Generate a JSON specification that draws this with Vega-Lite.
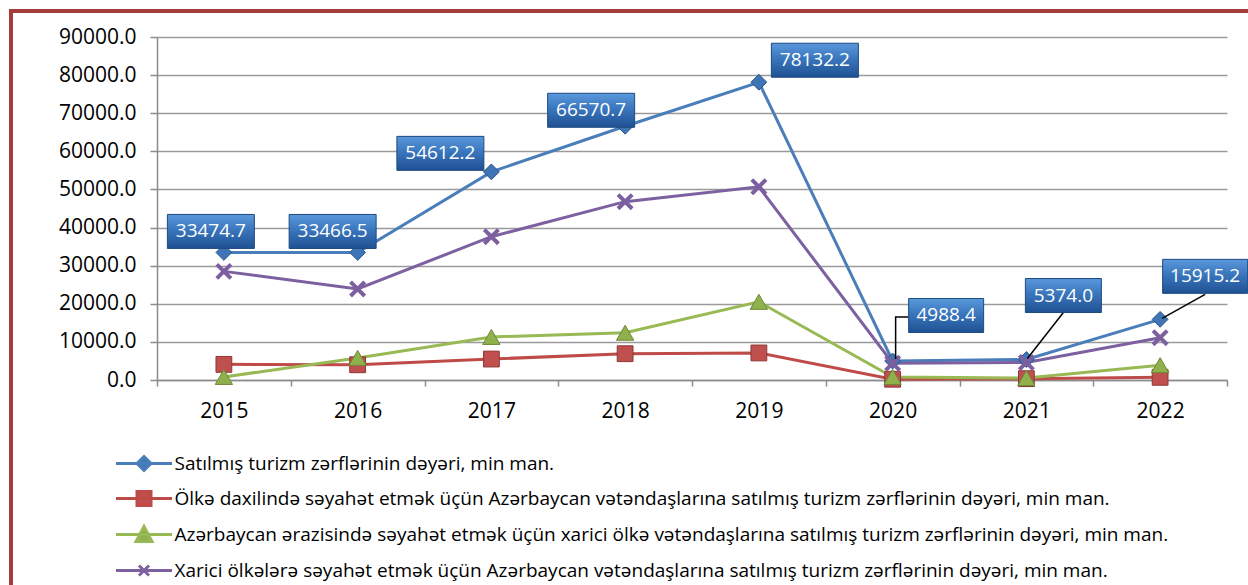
{
  "$schema": "https://vega.github.io/schema/vega-lite/v6.json",
  "width": 1250,
  "height": 590,
  "autosize": {"type": "none"},
  "padding": {"left": 11, "top": 11, "right": 0, "bottom": 0},
  "background": "#ffffff",
  "config": {
    "view": {"stroke": "#a33c3a", "strokeWidth": 4},
    "font": "Open Sans",
    "text": {"font": "Open Sans"},
    "legend": {"orient": "none", "title": null, "padding": 0, "symbolOffset": 28, "labelOffset": 21, "labelFontSize": 19, "labelFont": "Open Sans", "labelColor": "#000000", "labelLimit": 1300, "symbolSize": 4, "symbolStrokeWidth": 3, "symbolOpacity": 1}
  },
  "datasets": {
    "rows": [
      {"year": "2015", "key": "b", "series": "Satılmış turizm zərflərinin dəyəri, min man.", "value": 33474.7},
      {"year": "2016", "key": "b", "series": "Satılmış turizm zərflərinin dəyəri, min man.", "value": 33466.5},
      {"year": "2017", "key": "b", "series": "Satılmış turizm zərflərinin dəyəri, min man.", "value": 54612.2},
      {"year": "2018", "key": "b", "series": "Satılmış turizm zərflərinin dəyəri, min man.", "value": 66570.7},
      {"year": "2019", "key": "b", "series": "Satılmış turizm zərflərinin dəyəri, min man.", "value": 78132.2},
      {"year": "2020", "key": "b", "series": "Satılmış turizm zərflərinin dəyəri, min man.", "value": 4988.4},
      {"year": "2021", "key": "b", "series": "Satılmış turizm zərflərinin dəyəri, min man.", "value": 5374.0},
      {"year": "2022", "key": "b", "series": "Satılmış turizm zərflərinin dəyəri, min man.", "value": 15915.2},
      {"year": "2015", "key": "r", "series": "Ölkə daxilində səyahət etmək üçün Azərbaycan vətəndaşlarına satılmış turizm zərflərinin dəyəri, min man.", "value": 4100},
      {"year": "2016", "key": "r", "series": "Ölkə daxilində səyahət etmək üçün Azərbaycan vətəndaşlarına satılmış turizm zərflərinin dəyəri, min man.", "value": 4000},
      {"year": "2017", "key": "r", "series": "Ölkə daxilində səyahət etmək üçün Azərbaycan vətəndaşlarına satılmış turizm zərflərinin dəyəri, min man.", "value": 5500},
      {"year": "2018", "key": "r", "series": "Ölkə daxilində səyahət etmək üçün Azərbaycan vətəndaşlarına satılmış turizm zərflərinin dəyəri, min man.", "value": 6900},
      {"year": "2019", "key": "r", "series": "Ölkə daxilində səyahət etmək üçün Azərbaycan vətəndaşlarına satılmış turizm zərflərinin dəyəri, min man.", "value": 7100},
      {"year": "2020", "key": "r", "series": "Ölkə daxilində səyahət etmək üçün Azərbaycan vətəndaşlarına satılmış turizm zərflərinin dəyəri, min man.", "value": 200},
      {"year": "2021", "key": "r", "series": "Ölkə daxilində səyahət etmək üçün Azərbaycan vətəndaşlarına satılmış turizm zərflərinin dəyəri, min man.", "value": 350},
      {"year": "2022", "key": "r", "series": "Ölkə daxilində səyahət etmək üçün Azərbaycan vətəndaşlarına satılmış turizm zərflərinin dəyəri, min man.", "value": 700},
      {"year": "2015", "key": "g", "series": "Azərbaycan ərazisində səyahət etmək üçün xarici ölkə vətəndaşlarına satılmış turizm zərflərinin dəyəri, min man.", "value": 800},
      {"year": "2016", "key": "g", "series": "Azərbaycan ərazisində səyahət etmək üçün xarici ölkə vətəndaşlarına satılmış turizm zərflərinin dəyəri, min man.", "value": 5800},
      {"year": "2017", "key": "g", "series": "Azərbaycan ərazisində səyahət etmək üçün xarici ölkə vətəndaşlarına satılmış turizm zərflərinin dəyəri, min man.", "value": 11300},
      {"year": "2018", "key": "g", "series": "Azərbaycan ərazisində səyahət etmək üçün xarici ölkə vətəndaşlarına satılmış turizm zərflərinin dəyəri, min man.", "value": 12400},
      {"year": "2019", "key": "g", "series": "Azərbaycan ərazisində səyahət etmək üçün xarici ölkə vətəndaşlarına satılmış turizm zərflərinin dəyəri, min man.", "value": 20500},
      {"year": "2020", "key": "g", "series": "Azərbaycan ərazisində səyahət etmək üçün xarici ölkə vətəndaşlarına satılmış turizm zərflərinin dəyəri, min man.", "value": 800},
      {"year": "2021", "key": "g", "series": "Azərbaycan ərazisində səyahət etmək üçün xarici ölkə vətəndaşlarına satılmış turizm zərflərinin dəyəri, min man.", "value": 500},
      {"year": "2022", "key": "g", "series": "Azərbaycan ərazisində səyahət etmək üçün xarici ölkə vətəndaşlarına satılmış turizm zərflərinin dəyəri, min man.", "value": 3900},
      {"year": "2015", "key": "p", "series": "Xarici ölkələrə səyahət etmək üçün Azərbaycan vətəndaşlarına satılmış turizm zərflərinin dəyəri, min man.", "value": 28500},
      {"year": "2016", "key": "p", "series": "Xarici ölkələrə səyahət etmək üçün Azərbaycan vətəndaşlarına satılmış turizm zərflərinin dəyəri, min man.", "value": 23900},
      {"year": "2017", "key": "p", "series": "Xarici ölkələrə səyahət etmək üçün Azərbaycan vətəndaşlarına satılmış turizm zərflərinin dəyəri, min man.", "value": 37600},
      {"year": "2018", "key": "p", "series": "Xarici ölkələrə səyahət etmək üçün Azərbaycan vətəndaşlarına satılmış turizm zərflərinin dəyəri, min man.", "value": 46800},
      {"year": "2019", "key": "p", "series": "Xarici ölkələrə səyahət etmək üçün Azərbaycan vətəndaşlarına satılmış turizm zərflərinin dəyəri, min man.", "value": 50700},
      {"year": "2020", "key": "p", "series": "Xarici ölkələrə səyahət etmək üçün Azərbaycan vətəndaşlarına satılmış turizm zərflərinin dəyəri, min man.", "value": 4400},
      {"year": "2021", "key": "p", "series": "Xarici ölkələrə səyahət etmək üçün Azərbaycan vətəndaşlarına satılmış turizm zərflərinin dəyəri, min man.", "value": 4600},
      {"year": "2022", "key": "p", "series": "Xarici ölkələrə səyahət etmək üçün Azərbaycan vətəndaşlarına satılmış turizm zərflərinin dəyəri, min man.", "value": 11100}
    ]
  },
  "data": {"name": "rows"},
  "encoding": {
    "x": {
      "field": "year", "type": "ordinal",
      "scale": {"type": "band", "range": [146, 1216], "paddingInner": 0, "paddingOuter": 0},
      "axis": {"title": null, "orient": "bottom", "offset": -221, "tickBand": "extent", "tickSize": 6, "tickColor": "#8c8c8c", "tickWidth": 1.5, "domainColor": "#8c8c8c", "domainWidth": 1.5, "labelAngle": 0, "labelFontSize": 21, "labelPadding": 14, "labelColor": "#000000", "labelFont": "Open Sans", "grid": false}
    },
    "y": {
      "field": "value", "type": "quantitative",
      "scale": {"domain": [0, 90000], "range": [369, 26], "nice": false},
      "axis": {"title": null, "offset": -146, "values": [0, 10000, 20000, 30000, 40000, 50000, 60000, 70000, 80000, 90000], "format": ".1f", "tickSize": 7, "tickColor": "#8c8c8c", "tickWidth": 1.5, "domainColor": "#8c8c8c", "domainWidth": 1.5, "grid": true, "gridColor": "#9a9a9a", "gridWidth": 1.5, "labelFontSize": 21, "labelPadding": 14, "labelColor": "#000000", "labelFont": "Open Sans"}
    }
  },
  "layer": [
    {
      "mark": {"type": "line", "strokeWidth": 3},
      "encoding": {
        "color": {"field": "series", "type": "nominal", "legend": null,
          "scale": {"domain": ["Satılmış turizm zərflərinin dəyəri, min man.", "Ölkə daxilində səyahət etmək üçün Azərbaycan vətəndaşlarına satılmış turizm zərflərinin dəyəri, min man.", "Azərbaycan ərazisində səyahət etmək üçün xarici ölkə vətəndaşlarına satılmış turizm zərflərinin dəyəri, min man.", "Xarici ölkələrə səyahət etmək üçün Azərbaycan vətəndaşlarına satılmış turizm zərflərinin dəyəri, min man."],
                    "range": ["#4a7ebb", "#be4b48", "#98b954", "#7d60a0"]}}
      }
    },
    {
      "transform": [{"filter": "datum.key === 'b'"}],
      "mark": {"type": "point", "shape": "diamond", "size": 250, "filled": true, "fill": "#3f75b6", "stroke": "#2a5587", "strokeWidth": 1, "opacity": 1}
    },
    {
      "transform": [{"filter": "datum.key === 'r'"}],
      "mark": {"type": "point", "shape": "square", "size": 250, "filled": true, "fill": "#c0504d", "stroke": "#8c3836", "strokeWidth": 1, "opacity": 1}
    },
    {
      "transform": [{"filter": "datum.key === 'g'"}],
      "mark": {"type": "point", "shape": "triangle-up", "size": 300, "filled": true, "fill": "#8fb04c", "stroke": "#6b8a36", "strokeWidth": 1, "opacity": 1}
    },
    {
      "transform": [{"filter": "datum.key === 'p'"}],
      "mark": {"type": "point", "shape": "M-1,-1L1,1M-1,1L1,-1", "size": 200, "filled": false, "stroke": "#7d5fa0", "strokeWidth": 4, "opacity": 1}
    },
    {
      "transform": [{"filter": "datum.key === 'b' && (datum.year === '2020' || datum.year === '2021' || datum.year === '2022')"}],
      "mark": {"type": "point", "size": 4, "filled": false, "stroke": "#000000", "strokeWidth": 1.5, "opacity": 1},
      "encoding": {
        "shape": {"field": "year", "type": "nominal", "legend": null,
          "scale": {"domain": ["2020", "2021", "2022"], "range": ["M3,-2V-44H16", "M1,-1L37,-47", "M2,-1L45,-25"]}}
      }
    },
    {
      "transform": [{"filter": "datum.key === 'b'"}],
      "mark": {"type": "point", "size": 4, "filled": true, "opacity": 1, "stroke": "#1e4a80", "strokeWidth": 1,
        "fill": {"gradient": "linear", "x1": 0, "y1": 0, "x2": 0, "y2": 1, "stops": [{"offset": 0, "color": "#5a98dc"}, {"offset": 0.45, "color": "#3a76bd"}, {"offset": 1, "color": "#1f5193"}]}},
      "encoding": {
        "shape": {"field": "year", "type": "nominal", "legend": null,
          "scale": {"domain": ["2015", "2016", "2017", "2018", "2019", "2020", "2021", "2022"],
                    "range": ["M-56.5,-38H30.5V-4H-56.5Z", "M-68.5,-38H18.5V-4H-68.5Z", "M-94.5,-35.5H-7.5V-1.5H-94.5Z", "M-77.5,-33H9.5V1H-77.5Z", "M12.5,-39H99.5V-5H12.5Z", "M16,-62.5H91V-28.5H16Z", "M-1,-81H75V-47H-1Z", "M2.5,-60H87.5V-26H2.5Z"]}}
      }
    },
    {"transform": [{"filter": "datum.key === 'b' && datum.year === '2015'"}], "mark": {"type": "text", "dx": -13, "dy": -21, "fontSize": 19, "fill": "#ffffff"}, "encoding": {"text": {"field": "value", "type": "quantitative", "format": ".1f"}}},
    {"transform": [{"filter": "datum.key === 'b' && datum.year === '2016'"}], "mark": {"type": "text", "dx": -25, "dy": -21, "fontSize": 19, "fill": "#ffffff"}, "encoding": {"text": {"field": "value", "type": "quantitative", "format": ".1f"}}},
    {"transform": [{"filter": "datum.key === 'b' && datum.year === '2017'"}], "mark": {"type": "text", "dx": -51, "dy": -18.5, "fontSize": 19, "fill": "#ffffff"}, "encoding": {"text": {"field": "value", "type": "quantitative", "format": ".1f"}}},
    {"transform": [{"filter": "datum.key === 'b' && datum.year === '2018'"}], "mark": {"type": "text", "dx": -34, "dy": -16, "fontSize": 19, "fill": "#ffffff"}, "encoding": {"text": {"field": "value", "type": "quantitative", "format": ".1f"}}},
    {"transform": [{"filter": "datum.key === 'b' && datum.year === '2019'"}], "mark": {"type": "text", "dx": 56, "dy": -22, "fontSize": 19, "fill": "#ffffff"}, "encoding": {"text": {"field": "value", "type": "quantitative", "format": ".1f"}}},
    {"transform": [{"filter": "datum.key === 'b' && datum.year === '2020'"}], "mark": {"type": "text", "dx": 53.5, "dy": -45.5, "fontSize": 19, "fill": "#ffffff"}, "encoding": {"text": {"field": "value", "type": "quantitative", "format": ".1f"}}},
    {"transform": [{"filter": "datum.key === 'b' && datum.year === '2021'"}], "mark": {"type": "text", "dx": 37, "dy": -64, "fontSize": 19, "fill": "#ffffff"}, "encoding": {"text": {"field": "value", "type": "quantitative", "format": ".1f"}}},
    {"transform": [{"filter": "datum.key === 'b' && datum.year === '2022'"}], "mark": {"type": "text", "dx": 45, "dy": -43, "fontSize": 19, "fill": "#ffffff"}, "encoding": {"text": {"field": "value", "type": "quantitative", "format": ".1f"}}},
    {
      "transform": [{"filter": "false"}],
      "mark": {"type": "point", "size": 4, "filled": true, "fill": "#3f75b6", "stroke": "#4a7ebb", "strokeWidth": 2.5, "opacity": 1},
      "encoding": {
        "shape": {"field": "series", "type": "nominal",
          "scale": {"domain": ["Satılmış turizm zərflərinin dəyəri, min man."], "range": ["M-28,0H28M0,-7L7,0L0,7L-7,0Z"]},
          "legend": {"legendX": 95.5, "legendY": 443}}
      }
    },
    {
      "transform": [{"filter": "false"}],
      "mark": {"type": "point", "size": 4, "filled": true, "fill": "#c0504d", "stroke": "#be4b48", "strokeWidth": 2.5, "opacity": 1},
      "encoding": {
        "shape": {"field": "series", "type": "nominal",
          "scale": {"domain": ["Ölkə daxilində səyahət etmək üçün Azərbaycan vətəndaşlarına satılmış turizm zərflərinin dəyəri, min man."], "range": ["M-28,0H28M-7,-7H7V7H-7Z"]},
          "legend": {"legendX": 95.5, "legendY": 478}}
      }
    },
    {
      "transform": [{"filter": "false"}],
      "mark": {"type": "point", "size": 4, "filled": true, "fill": "#8fb04c", "stroke": "#98b954", "strokeWidth": 2.5, "opacity": 1},
      "encoding": {
        "shape": {"field": "series", "type": "nominal",
          "scale": {"domain": ["Azərbaycan ərazisində səyahət etmək üçün xarici ölkə vətəndaşlarına satılmış turizm zərflərinin dəyəri, min man."], "range": ["M-28,0H28M0,-8L8,7H-8Z"]},
          "legend": {"legendX": 95.5, "legendY": 514}}
      }
    },
    {
      "transform": [{"filter": "false"}],
      "mark": {"type": "point", "size": 4, "filled": true, "fill": "#7d60a0", "stroke": "#7d60a0", "strokeWidth": 3, "opacity": 1},
      "encoding": {
        "shape": {"field": "series", "type": "nominal",
          "scale": {"domain": ["Xarici ölkələrə səyahət etmək üçün Azərbaycan vətəndaşlarına satılmış turizm zərflərinin dəyəri, min man."], "range": ["M-28,0H28M-5,-5L5,5M-5,5L5,-5"]},
          "legend": {"legendX": 95.5, "legendY": 550}}
      }
    }
  ],
  "resolve": {"scale": {"shape": "independent"}}
}
